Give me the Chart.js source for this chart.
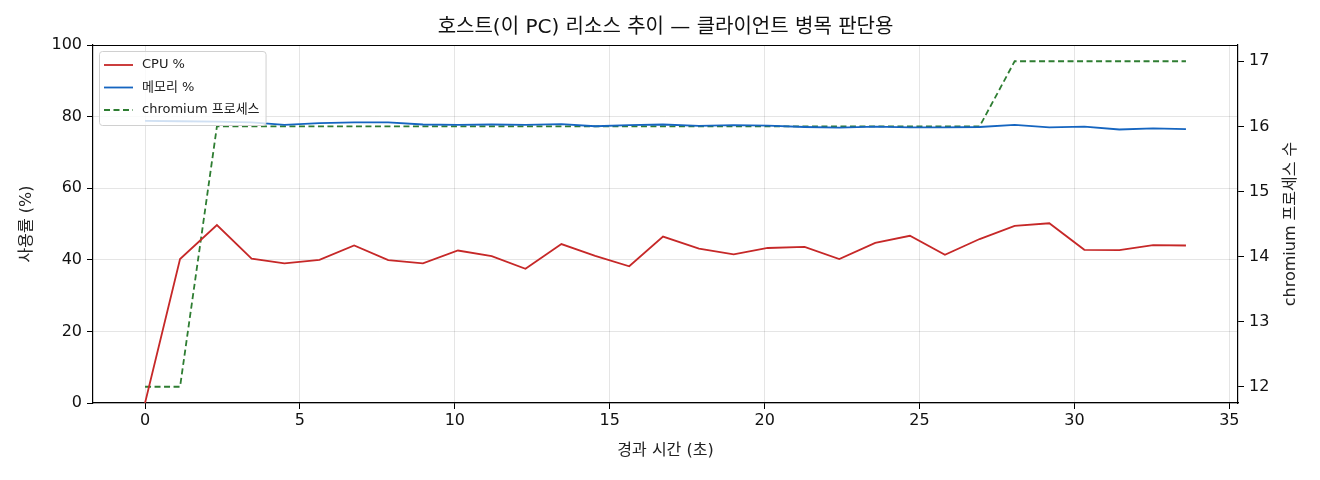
<!DOCTYPE html>
<html><head><meta charset="utf-8">
<script src="https://cdn.jsdelivr.net/npm/chart.js@4.4.1/dist/chart.umd.min.js"></script>
<style>html,body{margin:0;padding:0;background:#fff}#wrap{width:1320px;height:480px}</style>
</head><body><div id="wrap"><canvas id="c"></canvas></div>
<script>
const titleText = "호스트(이 PC) 리소스 추이 — 클라이언트 병목 판단용";
const xTitle = "경과 시간 (초)";
const yTitle = "사용률 (%)";
const y2Title = "chromium 프로세스 수";
const times = [0,1.13,2.32,3.44,4.50,5.63,6.75,7.85,8.97,10.10,11.19,12.28,13.44,14.53,15.63,16.72,17.88,19.0,20.1,21.29,22.41,23.57,24.69,25.82,26.94,28.07,29.19,30.32,31.45,32.54,33.6];
const cpu = [0,40.2,49.7,40.3,39.0,40.0,44.0,39.9,39.0,42.6,41.0,37.5,44.4,41.1,38.2,46.5,43.1,41.5,43.3,43.6,40.2,44.7,46.7,41.4,45.8,49.5,50.2,42.8,42.7,44.1,44.0];
const mem = [78.8,78.7,78.6,78.4,77.7,78.2,78.4,78.4,77.8,77.7,77.8,77.7,77.9,77.3,77.6,77.8,77.4,77.6,77.5,77.1,76.9,77.2,77.0,77.0,77.1,77.7,77.0,77.2,76.4,76.7,76.5];
const chromium = [12,12,16,16,16,16,16,16,16,16,16,16,16,16,16,16,16,16,16,16,16,16,16,16,16,17,17,17,17,17,17];
const xTicks = [0,5,10,15,20,25,30,35];
const yTicks = [0,20,40,60,80,100];
const y2Ticks = [12,13,14,15,16,17];
const labels = ["CPU %","메모리 %","chromium 프로세스"];

const FONT = "'DejaVu Sans', 'Noto Sans CJK KR', sans-serif";
const pts = (arr) => arr.map((v,i)=>({x:times[i], y:v}));

const frame = {
  id:'frame',
  afterDatasetsDraw(chart){
    const {ctx, chartArea:a} = chart;
    ctx.save();
    ctx.strokeStyle='#000'; ctx.lineWidth=1.2;
    ctx.beginPath(); ctx.moveTo(a.left,a.top+0.5); ctx.lineTo(a.right,a.top+0.5); ctx.stroke();
    // legend
    ctx.font='13px '+FONT;
    let maxW = 0;
    chart.data.datasets.forEach(ds=>{maxW=Math.max(maxW, ctx.measureText(ds.label).width);});
    const lx=99, ly=51, lw=Math.max(163, 142-lx+maxW+6), lh=74;
    ctx.fillStyle='rgba(255,255,255,0.8)';
    ctx.strokeStyle='#d0d0d0'; ctx.lineWidth=1;
    ctx.beginPath();
    if (ctx.roundRect) ctx.roundRect(lx+0.5,ly+0.5,lw,lh,3); else ctx.rect(lx+0.5,ly+0.5,lw,lh);
    ctx.fill(); ctx.stroke();
    chart.data.datasets.forEach((ds,i)=>{
      const yy = 65 + i*22.5;
      ctx.strokeStyle=ds.borderColor; ctx.lineWidth=1.8;
      ctx.setLineDash(ds.borderDash||[]);
      ctx.beginPath(); ctx.moveTo(104,yy); ctx.lineTo(133,yy); ctx.stroke();
      ctx.setLineDash([]);
      ctx.fillStyle='#222'; ctx.textBaseline='middle'; ctx.textAlign='left';
      ctx.fillText(ds.label,142,yy);
    });
    // titles
    ctx.fillStyle='#111'; ctx.font='20px '+FONT; ctx.textAlign='center'; ctx.textBaseline='middle';
    ctx.fillText(titleText,(a.left+a.right)/2,28);
    ctx.font='16px '+FONT; ctx.fillStyle='#222';
    ctx.fillText(xTitle,(a.left+a.right)/2,451);
    ctx.save(); ctx.translate(27,(a.top+a.bottom)/2); ctx.rotate(-Math.PI/2); ctx.fillText(yTitle,0,0); ctx.restore();
    ctx.save(); ctx.translate(1291,(a.top+a.bottom)/2); ctx.rotate(-Math.PI/2); ctx.fillText(y2Title,0,0); ctx.restore();
    ctx.restore();
  }
};

new Chart(document.getElementById('c'),{
  type:'line',
  data:{datasets:[
    {label:labels[0], data:pts(cpu), borderColor:'#c62828', borderWidth:1.8, pointRadius:0, yAxisID:'y', tension:0},
    {label:labels[1], data:pts(mem), borderColor:'#1565c0', borderWidth:1.8, pointRadius:0, yAxisID:'y', tension:0},
    {label:labels[2], data:pts(chromium), borderColor:'#2e7d32', borderWidth:1.8, borderDash:[6,3.5], pointRadius:0, yAxisID:'y2', tension:0}
  ]},
  options:{
    responsive:true, maintainAspectRatio:false, animation:false,
    layout:{padding:{top:45,left:0,right:0,bottom:0}},
    plugins:{legend:{display:false}, title:{display:false}, tooltip:{enabled:false}},
    scales:{
      x:{type:'linear', min:-1.68, max:35.28,
        afterBuildTicks:(s)=>{s.ticks=xTicks.map(v=>({value:v}));},
        afterFit:(s)=>{s.height=77;},
        grid:{color:'rgba(0,0,0,0.1)', lineWidth:1, tickColor:'#000', tickLength:6},
        border:{color:'#000', width:1.2},
        ticks:{color:'#111', font:{family:FONT,size:16}, padding:2, maxRotation:0}
      },
      y:{type:'linear', position:'left', min:0, max:100,
        afterBuildTicks:(s)=>{s.ticks=yTicks.map(v=>({value:v}));},
        afterFit:(s)=>{s.width=93;},
        grid:{color:'rgba(0,0,0,0.1)', lineWidth:1, tickColor:'#000', tickLength:6},
        border:{color:'#000', width:1.2},
        ticks:{color:'#111', font:{family:FONT,size:16}, padding:5}
      },
      y2:{type:'linear', position:'right', min:11.75, max:17.25,
        afterBuildTicks:(s)=>{s.ticks=y2Ticks.map(v=>({value:v}));},
        afterFit:(s)=>{s.width=82;},
        grid:{drawOnChartArea:false, tickColor:'#000', tickLength:6},
        border:{color:'#000', width:1.2},
        ticks:{color:'#111', font:{family:FONT,size:16}, padding:5}
      }
    }
  },
  plugins:[frame]
});
</script></body></html>
